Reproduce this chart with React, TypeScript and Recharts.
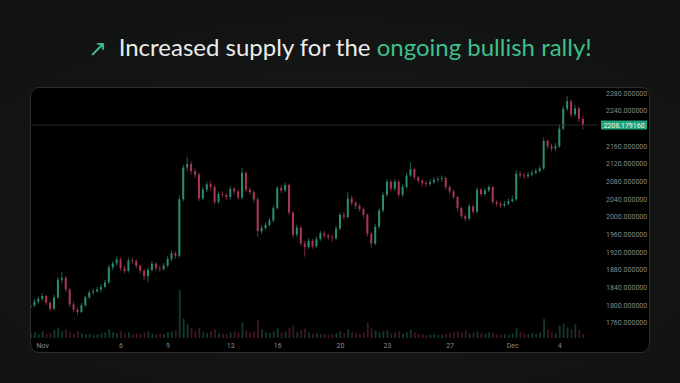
import { ComposedChart, Bar, Cell, XAxis, YAxis, ReferenceLine } from "recharts";

// 6h candles, first one at Oct 31 06:00 (days counted from Nov 1 00:00)
const START_DAY = -0.75;
const STEP_DAY = 0.25;
const FIRST_OPEN = 1795;

const CLOSE = [
  1800, 1808, 1815, 1821, 1806, 1792, 1818, 1858, 1862, 1836,
  1802, 1790, 1785, 1800, 1818, 1829, 1832, 1836, 1842, 1852,
  1886, 1895, 1904, 1884, 1878, 1902, 1900, 1889, 1878, 1866,
  1880, 1894, 1884, 1882, 1890, 1905, 1918, 1912, 2040, 2112,
  2120, 2104, 2096, 2042, 2062, 2074, 2068, 2034, 2052, 2050,
  2045, 2064, 2058, 2044, 2100, 2062, 2056, 2040, 1968, 1975,
  1982, 1992, 2020, 2066, 2060, 2072, 2010, 1960, 1976, 1940,
  1932, 1946, 1934, 1950, 1963, 1958, 1954, 1952, 1974, 2005,
  2000, 2042, 2032, 2025, 2018, 2005, 1962, 1940, 1978, 2015,
  2050, 2080, 2064, 2080, 2050, 2068, 2094, 2108, 2090, 2082,
  2077, 2075, 2079, 2084, 2086, 2088, 2068, 2058, 2045, 2020,
  2002, 1996, 2024, 2012, 2062, 2052, 2060, 2068, 2034, 2030,
  2026, 2030, 2036, 2040, 2098, 2094, 2092, 2096, 2100, 2104,
  2110, 2172, 2160, 2155, 2160, 2200, 2245, 2262, 2232, 2246,
  2222, 2208.17916,
];

const HIGH = [
  1810, 1814, 1820, 1828, 1824, 1810, 1824, 1864, 1875, 1866,
  1840, 1808, 1796, 1806, 1822, 1834, 1838, 1842, 1848, 1858,
  1892, 1900, 1910, 1908, 1890, 1908, 1908, 1904, 1892, 1882,
  1886, 1900, 1898, 1890, 1896, 1912, 1924, 1922, 2048, 2118,
  2136, 2126, 2110, 2100, 2068, 2080, 2082, 2072, 2058, 2058,
  2054, 2070, 2068, 2062, 2111, 2104, 2068, 2060, 2044, 1982,
  1988, 1998, 2026, 2070, 2072, 2078, 2076, 2014, 1982, 1980,
  1946, 1952, 1950, 1956, 1968, 1968, 1962, 1960, 1980, 2010,
  2012, 2056, 2048, 2036, 2030, 2022, 2008, 1966, 1984, 2020,
  2056, 2086, 2084, 2086, 2084, 2074, 2100, 2124, 2112, 2094,
  2086, 2082, 2086, 2090, 2092, 2094, 2092, 2072, 2062, 2048,
  2024, 2008, 2030, 2028, 2068, 2066, 2066, 2072, 2070, 2038,
  2034, 2036, 2042, 2048, 2106, 2104, 2100, 2102, 2106, 2110,
  2116, 2180, 2176, 2166, 2168, 2210, 2252, 2274, 2266, 2254,
  2250, 2228,
];

const LOW = [
  1788, 1796, 1804, 1810, 1800, 1786, 1790, 1815, 1850, 1830,
  1796, 1784, 1778, 1782, 1796, 1814, 1824, 1828, 1830, 1838,
  1848, 1880, 1890, 1878, 1872, 1874, 1894, 1884, 1872, 1856,
  1852, 1876, 1878, 1876, 1878, 1886, 1900, 1905, 1908, 2035,
  2104, 2096, 2088, 2036, 2038, 2056, 2060, 2028, 2030, 2044,
  2038, 2040, 2050, 2040, 2040, 2056, 2050, 2032, 1955, 1962,
  1970, 1978, 1988, 2016, 2054, 2056, 2004, 1952, 1955, 1934,
  1910, 1928, 1928, 1930, 1946, 1952, 1948, 1944, 1948, 1970,
  1994, 1996, 2026, 2018, 2012, 1998, 1955, 1930, 1936, 1974,
  2010, 2046, 2058, 2060, 2044, 2046, 2064, 2090, 2084, 2076,
  2070, 2068, 2070, 2074, 2078, 2080, 2062, 2052, 2040, 2012,
  1996, 1990, 1992, 2006, 2008, 2046, 2048, 2056, 2028, 2024,
  2020, 2022, 2026, 2032, 2036, 2088, 2086, 2088, 2092, 2096,
  2100, 2106, 2154, 2148, 2150, 2156, 2196, 2240, 2226, 2228,
  2215, 2198,
];

const VOLUME = [
  10, 12, 8, 14, 9, 11, 16, 22, 14, 18,
  12, 9, 14, 10, 8, 9, 7, 8, 10, 12,
  18, 12, 10, 14, 9, 12, 8, 10, 9, 12,
  14, 10, 8, 9, 8, 12, 14, 16, 100, 40,
  28, 20, 14, 22, 12, 10, 14, 18, 10, 9,
  8, 11, 14, 12, 32, 16, 12, 14, 38, 18,
  12, 10, 14, 20, 12, 14, 22, 26, 12, 16,
  20, 12, 9, 10, 8, 9, 7, 8, 10, 14,
  10, 18, 12, 10, 9, 12, 32, 20, 16, 12,
  14, 16, 10, 12, 14, 9, 12, 18, 12, 9,
  8, 6, 7, 8, 6, 7, 9, 10, 12, 14,
  12, 16, 10, 12, 14, 10, 9, 12, 10, 8,
  7, 8, 7, 9, 20, 12, 9, 8, 10, 9,
  12, 40, 18, 12, 10, 26, 30, 22, 18, 28,
  16, 8,
];

const TICK_DAYS = [0, 5, 8, 12, 15, 19, 22, 26, 30, 33];
const TICK_LABELS = ["Nov", "6", "9", "13", "16", "20", "23", "27", "Dec", "4"];
// 2200 sits under the last-price tag, so the reference does not show it
const PRICE_TICKS = [1760, 1800, 1840, 1880, 1920, 1960, 2000, 2040, 2080, 2120, 2160, 2240, 2280];
const LAST_PRICE = 2208.17916;

const UP = "#2a8d76";
const DOWN = "#ad3650";
const UP_VOL = "#123a32";
const DOWN_VOL = "#3f1720";

const data = CLOSE.map((close, i) => {
  const open = i === 0 ? FIRST_OPEN : CLOSE[i - 1];
  return {
    t: START_DAY + i * STEP_DAY,
    open,
    high: HIGH[i],
    low: LOW[i],
    close,
    vol: VOLUME[i],
    up: close >= open,
  };
});

function Candle(props: any) {
  const { x, y, width, height, payload } = props;
  if (!payload || height == null) return null;
  const { open, close, high, low } = payload;
  const color = close >= open ? UP : DOWN;
  const cx = x + width / 2;
  const top = Math.min(y, y + height);
  const h = Math.abs(height);
  const k = h / (high - low || 1);
  const yO = top + (high - open) * k;
  const yC = top + (high - close) * k;
  const bodyTop = Math.min(yO, yC);
  const bodyH = Math.max(Math.abs(yO - yC), 0.8);
  return (
    <g>
      <line x1={cx} x2={cx} y1={top} y2={top + h} stroke={color} strokeWidth={0.7} />
      <rect x={cx - 1} y={bodyTop} width={2} height={bodyH} fill={color} />
    </g>
  );
}

function PriceTag(props: any) {
  const vb = props.viewBox || {};
  const x = vb.x + vb.width + 3;
  const y = vb.y;
  return (
    <g>
      <rect x={x} y={y - 4.5} width={46} height={9} fill="#1fa37c" />
      <text x={x + 23} y={y + 2.5} textAnchor="middle" fill="#e9f5f0" fontSize={7} fontFamily="Roboto">
        {LAST_PRICE.toFixed(6)}
      </text>
    </g>
  );
}

export default function App() {
  return (
    <div
      style={{
        position: "absolute",
        left: 0,
        top: 0,
        width: 680,
        height: 383,
        overflow: "hidden",
        background: "radial-gradient(ellipse 70% 60% at 50% 55%, #1a1f1d 0%, #141716 55%, #111212 100%)",
        fontFamily: "Lato, 'Noto Sans', sans-serif",
      }}
    >
      <div
        style={{
          position: "absolute",
          left: 0,
          top: 30,
          width: 680,
          textAlign: "center",
          fontSize: 24,
          lineHeight: "34px",
          color: "#ececec",
          fontWeight: 400,
        }}
      >
        <span style={{ color: "#3fbf8c", fontFamily: "'DejaVu Sans'", fontSize: 22, marginRight: 12 }}>↗</span>
        Increased supply for the <span style={{ color: "#3fbf8c" }}>ongoing bullish rally!</span>
      </div>
      <div
        style={{
          position: "absolute",
          left: 30,
          top: 87,
          width: 618,
          height: 264,
          background: "#000",
          border: "1px solid #2c2e2d",
          borderRadius: 9,
          overflow: "hidden",
        }}
      >
        <ComposedChart width={618} height={264} data={data} margin={{ top: 0, right: 0, bottom: 0, left: 0 }}>
          <XAxis
            xAxisId="price"
            dataKey="t"
            type="number"
            domain={[-0.747, 35.44]}
            allowDataOverflow
            ticks={TICK_DAYS}
            interval={0}
            tickFormatter={(v) => TICK_LABELS[TICK_DAYS.indexOf(v)] ?? ""}
            axisLine={false}
            tickLine={false}
            tickSize={0}
            tickMargin={5}
            height={14}
            tick={{ fill: "#8a8a8a", fontSize: 7, fontFamily: "Roboto" }}
          />
          <XAxis xAxisId="vol" dataKey="t" type="number" domain={[-0.747, 35.44]} allowDataOverflow hide />
          <YAxis
            yAxisId="price"
            orientation="right"
            domain={[1726, 2292]}
            allowDataOverflow
            ticks={PRICE_TICKS}
            interval={0}
            tickFormatter={(v) => Number(v).toFixed(6)}
            axisLine={false}
            tickLine={false}
            width={51}
            tick={{ fill: "#8a8a8a", fontSize: 7, fontFamily: "Roboto" }}
          />
          <YAxis yAxisId="vol" domain={[0, 520]} hide />
          <Bar xAxisId="vol" yAxisId="vol" dataKey="vol" barSize={1.8} isAnimationActive={false}>
            {data.map((d, i) => (
              <Cell key={i} fill={d.up ? UP_VOL : DOWN_VOL} />
            ))}
          </Bar>
          <ReferenceLine
            xAxisId="price"
            yAxisId="price"
            y={LAST_PRICE}
            stroke="#262626"
            strokeWidth={1}
            label={<PriceTag />}
          />
          <Bar
            xAxisId="price"
            yAxisId="price"
            dataKey={(d: any) => [d.low, d.high]}
            barSize={3}
            shape={<Candle />}
            isAnimationActive={false}
          />
        </ComposedChart>
      </div>
    </div>
  );
}
